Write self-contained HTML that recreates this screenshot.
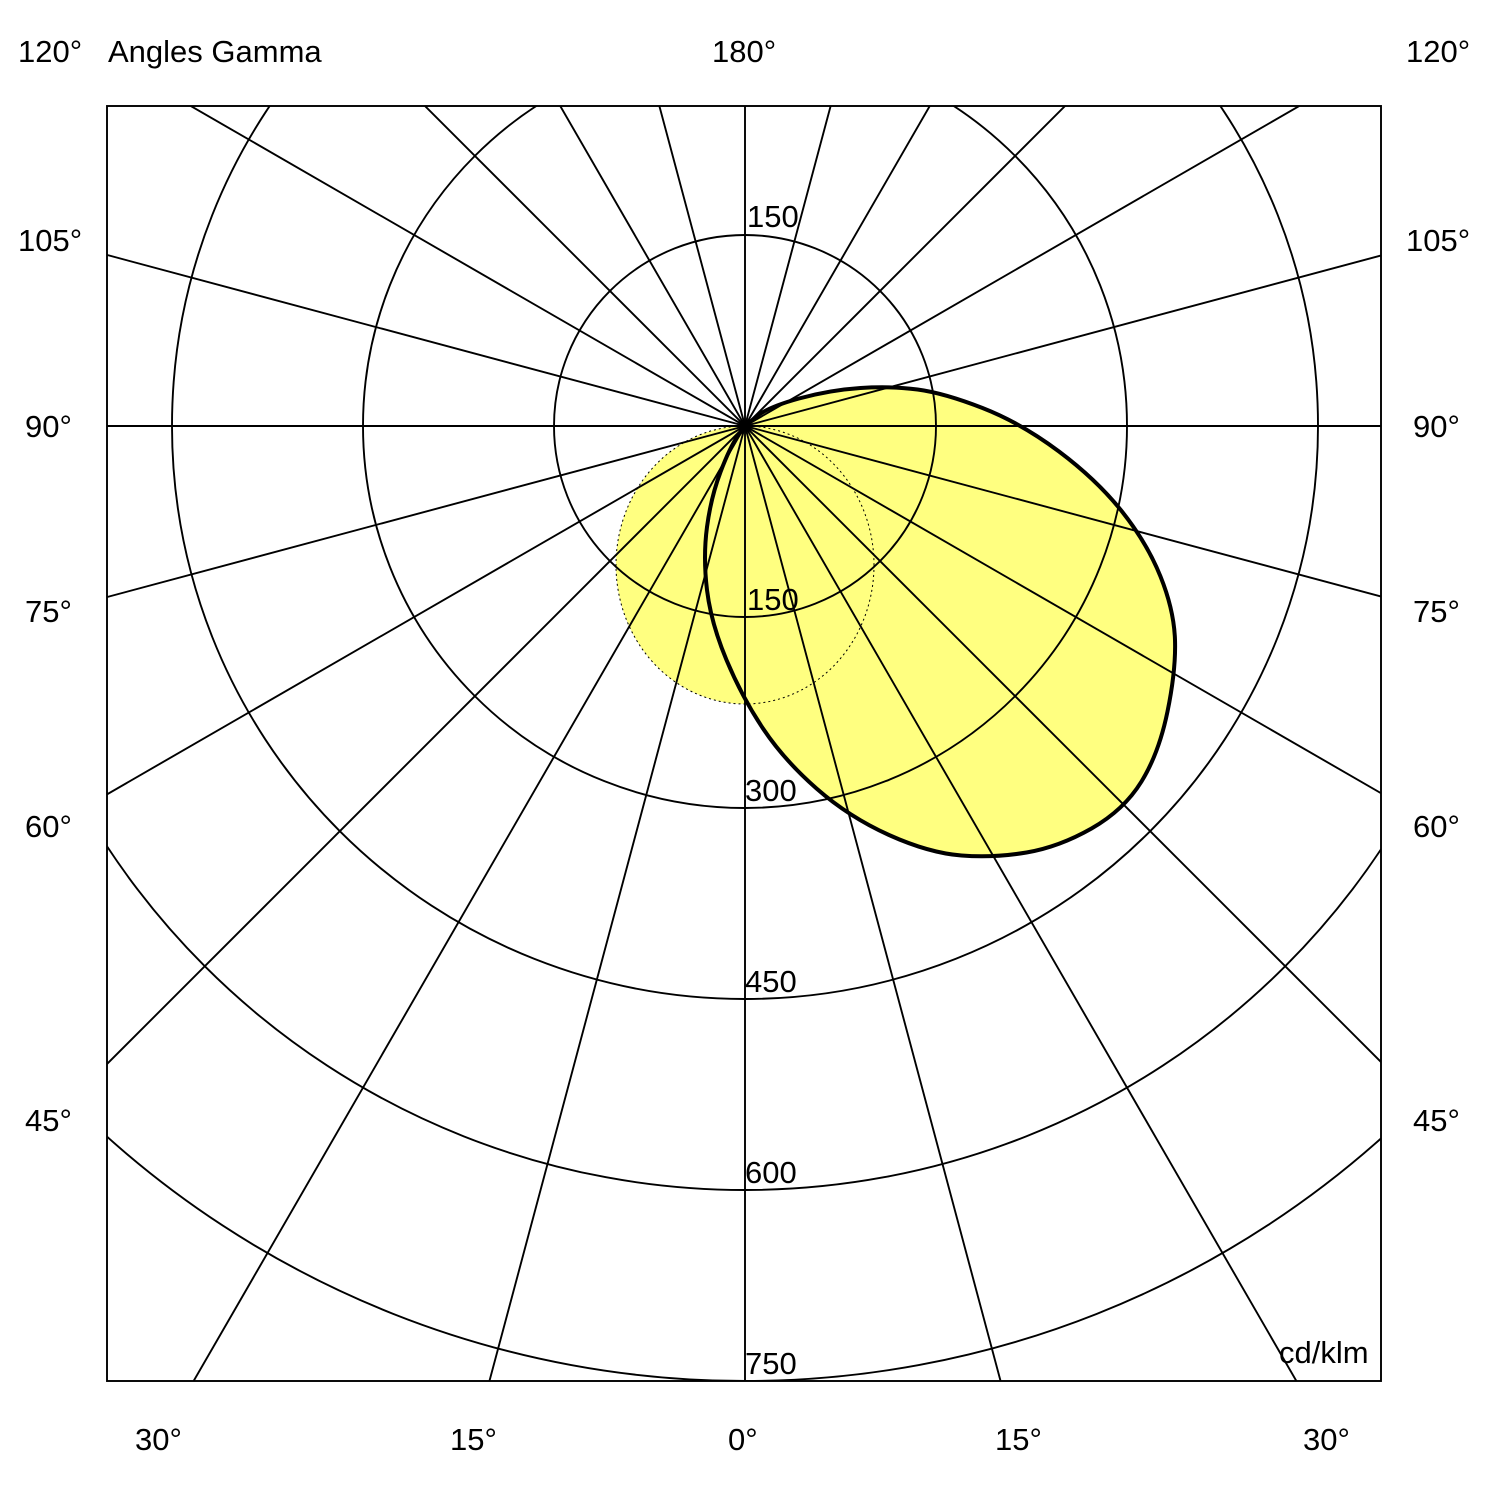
<!DOCTYPE html>
<html><head><style>
html,body{margin:0;padding:0;background:#fff;overflow:hidden;width:1490px;height:1490px}
svg{display:block}
svg text{font-family:"Liberation Sans",sans-serif;font-size:31px;fill:#000}
</style></head><body>
<svg width="1490" height="1490" viewBox="0 0 1490 1490" xmlns="http://www.w3.org/2000/svg">
<defs><clipPath id="c"><rect x="107" y="106" width="1274" height="1275"/></clipPath></defs>
<g clip-path="url(#c)">
<ellipse cx="745" cy="565" rx="129" ry="139" fill="#ffff80"/>
<path d="M745,426 L756.5,416.5 Q768,407 799,398.5 Q830,390 860.5,388 Q891,386 917.5,389.5 Q944,393 982.5,408 Q1021,423 1059,451.5 Q1097,480 1122,511.5 Q1147,543 1160.5,576.5 Q1174,610 1175,640 Q1176,670 1167.5,711.5 Q1159,753 1141.5,781.5 Q1124,810 1091.5,828.5 Q1059,847 1026.5,852.5 Q994,858 961.5,855.5 Q929,853 889,835 Q849,817 816.5,788.5 Q784,760 763,728.5 Q742,697 726.5,660 Q711,623 707,590 Q703,557 707,527 Q711,497 720.5,472 Q730,447 737.5,436.5 L745,426 Z" fill="#ffff80"/>
<g stroke="#000" stroke-width="1.9" fill="none">
<circle cx="745" cy="426" r="191"/>
<circle cx="745" cy="426" r="382"/>
<circle cx="745" cy="426" r="573"/>
<circle cx="745" cy="426" r="764"/>
<circle cx="745" cy="426" r="955"/>
</g>
<g stroke="#000" stroke-width="1.9">
<line x1="-1255" y1="426" x2="2745" y2="426"/>
<line x1="745" y1="-1574" x2="745" y2="2426"/>
<line x1="228" y1="-1506" x2="1262" y2="2358"/>
<line x1="-255" y1="-1306" x2="1745" y2="2158"/>
<line x1="-669" y1="-988" x2="2159" y2="1840"/>
<line x1="-987" y1="-574" x2="2477" y2="1426"/>
<line x1="-1187" y1="-92" x2="2677" y2="944"/>
<line x1="1262" y1="-1506" x2="228" y2="2358"/>
<line x1="1745" y1="-1306" x2="-255" y2="2158"/>
<line x1="2159" y1="-988" x2="-669" y2="1840"/>
<line x1="2477" y1="-574" x2="-987" y2="1426"/>
<line x1="2677" y1="-92" x2="-1187" y2="944"/>
</g>
<ellipse cx="745" cy="565" rx="129" ry="139" fill="none" stroke="#000" stroke-width="1" stroke-dasharray="2,3"/>
<path d="M745,426 L756.5,416.5 Q768,407 799,398.5 Q830,390 860.5,388 Q891,386 917.5,389.5 Q944,393 982.5,408 Q1021,423 1059,451.5 Q1097,480 1122,511.5 Q1147,543 1160.5,576.5 Q1174,610 1175,640 Q1176,670 1167.5,711.5 Q1159,753 1141.5,781.5 Q1124,810 1091.5,828.5 Q1059,847 1026.5,852.5 Q994,858 961.5,855.5 Q929,853 889,835 Q849,817 816.5,788.5 Q784,760 763,728.5 Q742,697 726.5,660 Q711,623 707,590 Q703,557 707,527 Q711,497 720.5,472 Q730,447 737.5,436.5 L745,426 Z" fill="none" stroke="#000" stroke-width="4" stroke-linejoin="round"/>
<circle cx="745" cy="426" r="5" fill="#000"/>
</g>
<rect x="107" y="106" width="1274" height="1275" fill="none" stroke="#000" stroke-width="1.9"/>
<text x="747" y="227">150</text>
<text x="747" y="610">150</text>
<text x="745" y="801">300</text>
<text x="745" y="992">450</text>
<text x="745" y="1183">600</text>
<text x="745" y="1374">750</text>
<text x="1279" y="1363">cd/klm</text>
<text x="18" y="62">120°</text>
<text x="108" y="62">Angles Gamma</text>
<text x="712" y="62">180°</text>
<text x="1406" y="62">120°</text>
<text x="18" y="251">105°</text><text x="1406" y="251">105°</text>
<text x="25" y="437">90°</text><text x="1413" y="437">90°</text>
<text x="25" y="622">75°</text><text x="1413" y="622">75°</text>
<text x="25" y="837">60°</text><text x="1413" y="837">60°</text>
<text x="25" y="1131">45°</text><text x="1413" y="1131">45°</text>
<text x="135" y="1450">30°</text>
<text x="450" y="1450">15°</text>
<text x="728" y="1450">0°</text>
<text x="995" y="1450">15°</text>
<text x="1303" y="1450">30°</text>
</svg>
</body></html>
